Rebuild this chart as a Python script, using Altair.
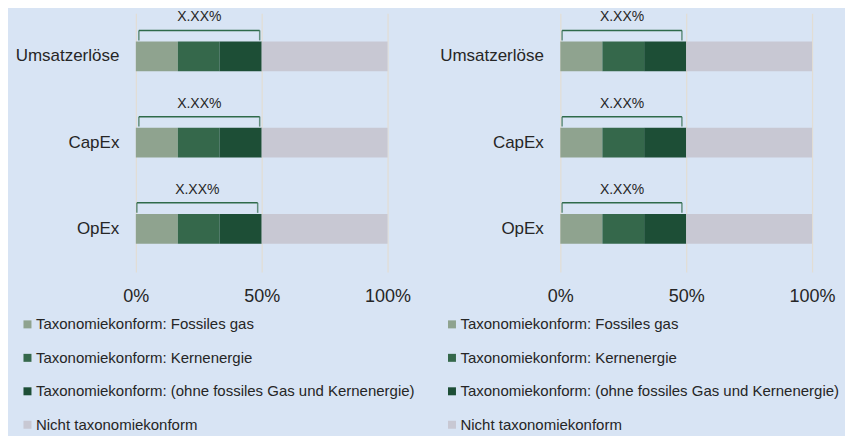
import altair as alt
import pandas as pd

categories = ["Umsatzerlöse", "CapEx", "OpEx"]
segments = [
    "Taxonomiekonform: Fossiles gas",
    "Taxonomiekonform: Kernenergie",
    "Taxonomiekonform: (ohne fossiles Gas und Kernenergie)",
    "Nicht taxonomiekonform",
]
colors = ["#8fa38f", "#35684b", "#1d4e36", "#c8c8d3"]

# values in % per segment (rows) for each category (columns)
left_fossil = [16.7, 16.7, 16.7]
left_kern = [16.6, 16.6, 16.6]
left_ohne = [16.7, 16.7, 16.7]
left_nicht = [50.0, 50.0, 50.0]
right_fossil = [16.7, 16.7, 16.7]
right_kern = [16.6, 16.6, 16.6]
right_ohne = [16.7, 16.7, 16.7]
right_nicht = [50.0, 50.0, 50.0]

bracket_labels = ["X.XX%", "X.XX%", "X.XX%"]
left_br_start = [1.2, 1.2, 0.4]
left_br_end = [49.2, 49.2, 48.4]
right_br_start = [0.7, 0.7, 0.7]
right_br_end = [48.3, 48.3, 48.3]

FONT = "Liberation Sans"
GREEN = "#2f6a4a"


def panel(series, br_start, br_end):
    rows = []
    for i, c in enumerate(categories):
        for j, s in enumerate(segments):
            rows.append({"cat": c, "seg": s, "ord": j, "val": series[j][i]})
    df = pd.DataFrame(rows)
    br = pd.DataFrame({"cat": categories, "start": br_start, "end": br_end,
                       "label": bracket_labels})
    br["mid"] = (br["start"] + br["end"]) / 2

    y = alt.Y("cat:N", sort=categories,
              scale=alt.Scale(paddingInner=0.655, paddingOuter=0.3275),
              axis=alt.Axis(title=None, ticks=False, tickSize=0, domain=False,
                            labelPadding=17, labelFontSize=17, labelColor="#262626",
                            labelFont=FONT))
    x = alt.X("val:Q", stack="zero", scale=alt.Scale(domain=[0, 100]),
              axis=alt.Axis(title=None, values=[0, 50, 100], labelExpr="datum.value + '%'",
                            ticks=False, tickSize=0, domain=False, grid=True, labelFlush=False,
                            gridColor="#e2ddd4", gridWidth=1.2, labelPadding=16,
                            labelFontSize=18, labelColor="#262626", labelFont=FONT))

    bars = alt.Chart(df).mark_bar().encode(
        x=x,
        y=y,
        color=alt.Color("seg:N", scale=alt.Scale(domain=segments, range=colors),
                        legend=alt.Legend(title=None, orient="none", legendX=-116, legendY=304,
                                          direction="vertical", symbolType="square",
                                          symbolSize=64, symbolStrokeWidth=0,
                                          labelFontSize=15, labelFont=FONT,
                                          labelColor="#262626", rowPadding=17.5,
                                          labelOffset=1, labelLimit=600)),
        order=alt.Order("ord:Q"),
    )
    hline = alt.Chart(br).mark_rule(color=GREEN, strokeWidth=1.5, yOffset=-26).encode(
        x="start:Q", x2="end:Q", y=alt.Y("cat:N", sort=categories))
    tick_l = alt.Chart(br).mark_tick(color=GREEN, orient="vertical", size=10, thickness=1.5,
                                     yOffset=-21).encode(
        x="start:Q", y=alt.Y("cat:N", sort=categories))
    tick_r = alt.Chart(br).mark_tick(color=GREEN, orient="vertical", size=10, thickness=1.5,
                                     yOffset=-21).encode(
        x="end:Q", y=alt.Y("cat:N", sort=categories))
    txt = alt.Chart(br).mark_text(fontSize=14, font=FONT, color="#262626", yOffset=-39).encode(
        x="mid:Q", y=alt.Y("cat:N", sort=categories), text="label:N")
    return alt.layer(bars, hline, tick_l, tick_r, txt).properties(width=252, height=259)


left = panel([left_fossil, left_kern, left_ohne, left_nicht], left_br_start, left_br_end)
right = panel([right_fossil, right_kern, right_ohne, right_nicht], right_br_start, right_br_end)

chart = alt.hconcat(left, right, spacing=173, bounds="flush").resolve_scale(
    color="independent"
).properties(
    padding={"top": 2, "left": 7, "right": 5, "bottom": 5}
).configure(
    background="#d8e4f4",
    font=FONT,
).configure_view(stroke=None)

chart.save("out.html", embed_options={"renderer": "svg", "actions": False})
